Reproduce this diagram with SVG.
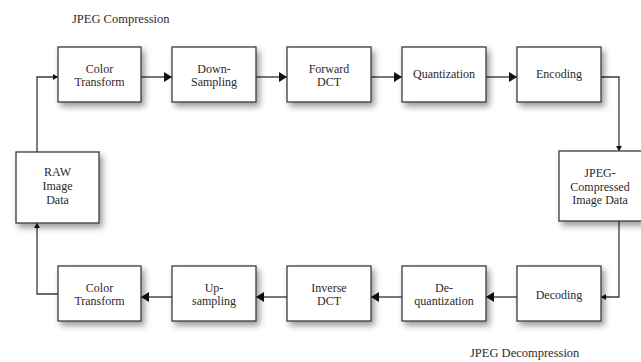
<svg xmlns="http://www.w3.org/2000/svg" width="641" height="362" viewBox="0 0 641 362">
<style>
.box{fill:#fff;stroke:#3c3c3c;stroke-width:1.3;filter:url(#sh)}
.t{font-family:"Liberation Serif",serif;font-size:12px;fill:#2a2a2a;text-anchor:middle}
.title{font-family:"Liberation Serif",serif;font-size:12.5px;fill:#2a2a2a}
.c{fill:none;stroke:#555;stroke-width:1.6}
.c2{fill:none;stroke:#3a3a3a;stroke-width:1.3}
</style>
<defs>
<filter id="sh" x="-20%" y="-20%" width="150%" height="160%">
<feDropShadow dx="3" dy="4" stdDeviation="3" flood-color="#000" flood-opacity="0.4"/>
</filter>
<marker id="big" markerWidth="8" markerHeight="10" refX="8" refY="5" orient="auto" markerUnits="userSpaceOnUse">
<path d="M0,0 L8,5 L0,10 Z" fill="#111"/>
</marker>
<marker id="sm" markerWidth="5" markerHeight="6" refX="5" refY="3" orient="auto" markerUnits="userSpaceOnUse">
<path d="M0,0 L5,3 L0,6 Z" fill="#111"/>
</marker>
</defs>
<text class="title" x="72" y="23">JPEG Compression</text>
<text class="title" x="470" y="357">JPEG Decompression</text>
<g id="connectors">
<line class="c" x1="141" y1="77" x2="172" y2="77" marker-end="url(#big)"/>
<line class="c" x1="256" y1="77" x2="287" y2="77" marker-end="url(#big)"/>
<line class="c" x1="371" y1="77" x2="402" y2="77" marker-end="url(#big)"/>
<line class="c" x1="486" y1="77" x2="517" y2="77" marker-end="url(#big)"/>
<polyline class="c2" points="601,77 619,77 619,151" marker-end="url(#sm)"/>
<polyline class="c2" points="619,221 619,297 601,297" marker-end="url(#sm)"/>
<line class="c" x1="517" y1="297" x2="486" y2="297" marker-end="url(#big)"/>
<line class="c" x1="402" y1="297" x2="371" y2="297" marker-end="url(#big)"/>
<line class="c" x1="287" y1="297" x2="256" y2="297" marker-end="url(#big)"/>
<line class="c" x1="172" y1="297" x2="141" y2="297" marker-end="url(#big)"/>
<polyline class="c2" points="58,294 37,294 37,223" marker-end="url(#sm)"/>
<polyline class="c2" points="37,152 37,77 58,77" marker-end="url(#sm)"/>
</g>
<g id="color-transform-1"><rect class="box" x="58" y="47" width="83" height="55"/><text class="t" x="99.5" y="73">Color</text><text class="t" x="99.5" y="86">Transform</text></g>
<g id="down-sampling"><rect class="box" x="172" y="47" width="84" height="55"/><text class="t" x="214" y="73">Down-</text><text class="t" x="214" y="86">Sampling</text></g>
<g id="forward-dct"><rect class="box" x="287" y="47" width="84" height="55"/><text class="t" x="329" y="73">Forward</text><text class="t" x="329" y="86">DCT</text></g>
<g id="quantization"><rect class="box" x="402" y="47" width="84" height="55"/><text class="t" x="444" y="78">Quantization</text></g>
<g id="encoding"><rect class="box" x="517" y="47" width="84" height="55"/><text class="t" x="559" y="78">Encoding</text></g>
<g id="jpeg-data"><rect class="box" x="559" y="151" width="84" height="70"/><text class="t" x="600" y="177">JPEG-</text><text class="t" x="600" y="191">Compressed</text><text class="t" x="600" y="204">Image Data</text></g>
<g id="raw-data"><rect class="box" x="16" y="152" width="83" height="71"/><text class="t" x="57.5" y="176">RAW</text><text class="t" x="57.5" y="190">Image</text><text class="t" x="57.5" y="204">Data</text></g>
<g id="decoding"><rect class="box" x="517" y="266" width="84" height="55"/><text class="t" x="559" y="299">Decoding</text></g>
<g id="de-quantization"><rect class="box" x="402" y="266" width="84" height="55"/><text class="t" x="444" y="292">De-</text><text class="t" x="444" y="305">quantization</text></g>
<g id="inverse-dct"><rect class="box" x="287" y="266" width="84" height="55"/><text class="t" x="329" y="292">Inverse</text><text class="t" x="329" y="305">DCT</text></g>
<g id="up-sampling"><rect class="box" x="172" y="266" width="84" height="55"/><text class="t" x="214" y="292">Up-</text><text class="t" x="214" y="305">sampling</text></g>
<g id="color-transform-2"><rect class="box" x="58" y="266" width="83" height="55"/><text class="t" x="99.5" y="292">Color</text><text class="t" x="99.5" y="305">Transform</text></g>
</svg>
